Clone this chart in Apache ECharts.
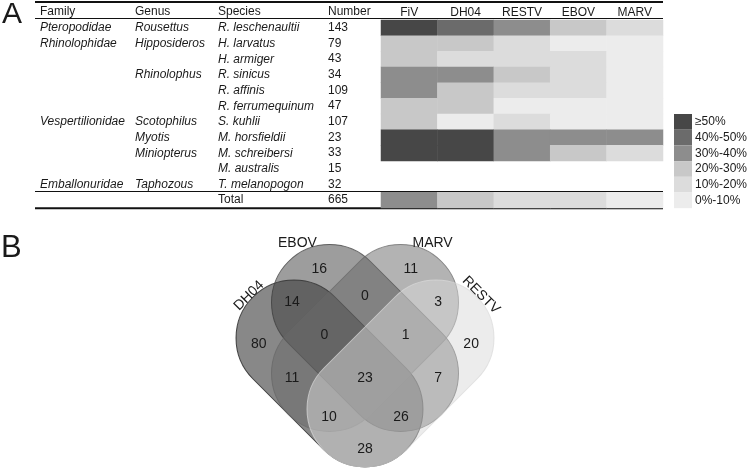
<!DOCTYPE html>
<html><head><meta charset="utf-8">
<script src="https://cdn.jsdelivr.net/npm/echarts@6/dist/echarts.min.js"></script>
<style>html,body{margin:0;padding:0;background:#fff}#c{width:750px;height:473px}</style>
</head><body><div id="c"></div>
<script>
// ---------------- data ----------------
const families = ['Pteropodidae','Rhinolophidae','','','','','Vespertilionidae','','','','Emballonuridae',''];
const genera = ['Rousettus','Hipposideros','','Rhinolophus','','','Scotophilus','Myotis','Miniopterus','','Taphozous',''];
const species = ['R. leschenaultii','H. larvatus','H. armiger','R. sinicus','R. affinis','R. ferrumequinum','S. kuhlii','M. horsfieldii','M. schreibersi','M. australis','T. melanopogon','Total'];
const sampleNumbers = [143,79,43,34,109,47,107,23,33,15,32,665];
const viruses = ['FiV','DH04','RESTV','EBOV','MARV'];
const levelLabels = ['0%-10%','10%-20%','20%-30%','30%-40%','40%-50%','≥50%'];
// positivity class (index into levelLabels) per row, columns follow `viruses`
const positivityLevels = [
  [5,4,3,2,1],
  [2,2,1,0,0],
  [2,1,1,1,0],
  [3,3,2,1,0],
  [3,2,1,1,0],
  [2,2,0,0,0],
  [2,0,1,0,0],
  [5,5,3,3,3],
  [5,5,3,2,1],
  null,
  null,
  [3,2,1,1,0]
];
const vennSets = ['DH04','EBOV','MARV','RESTV'];
const vennRegions = ['DH04','EBOV','MARV','RESTV','DH04&EBOV','EBOV&MARV','MARV&RESTV','DH04&EBOV&MARV','EBOV&MARV&RESTV','DH04&MARV','EBOV&RESTV','DH04&EBOV&MARV&RESTV','DH04&MARV&RESTV','DH04&EBOV&RESTV','DH04&RESTV'];
const vennCounts = [80,16,11,20,14,0,3,0,1,11,7,23,10,26,28];

// ---------------- layout / style ----------------
const FONT = '"Liberation Sans", Arial, Helvetica, sans-serif';
const TXT = '#1a1a1a';
const levelColors = ['#ececec','#dcdcdc','#c8c8c8','#8d8d8d','#6b6b6b','#474747'];
const TBL = {left:381, top:20, width:282, height:188, x0:35, x1:663};
const colX = [40, 135, 218, 328];
const colTexts = [families, genera, species, sampleNumbers];
const headers = ['Family','Genus','Species','Number'];
// Venn geometry, in units of the shape radius
const VENN = {cx:365, cy:338, unit:58, xmin:-2.5, xmax:2.5, ymin:-2, ymax:2.3};
const halfSpan = 0.612;
const shapeGeom = {DH04:{x:-0.612,y:0.612,dir:1}, EBOV:{x:0,y:0,dir:1}, MARV:{x:0,y:0,dir:-1}, RESTV:{x:0.612,y:0.612,dir:-1}};
const shapeRGB = {DH04:'17,17,17', EBOV:'59,59,59', MARV:'103,103,103', RESTV:'217,217,217'};
const regionPos = [[-1.83,0.11],[-0.79,-1.19],[0.79,-1.19],[1.83,0.11],[-1.26,-0.61],[0,-0.73],[1.26,-0.61],[-0.70,-0.05],[0.70,-0.05],[-1.26,0.70],[1.26,0.70],[0,0.69],[-0.62,1.37],[0.62,1.37],[0,1.91]];
const setLabelPos = {DH04:[-2.0,-0.73,45], EBOV:[-1.165,-1.64,0], MARV:[1.165,-1.64,0], RESTV:[2.0,-0.74,-45]};

const heatData = [];
positivityLevels.forEach((row, r) => { if (row) row.forEach((lv, c) => heatData.push([c, r, lv])); });

const textYAxes = colTexts.map((arr, k) => ({
  gridIndex: 0, type: 'category', position: 'left', offset: 0, inverse: true, data: species,
  axisLine: {show:false}, axisTick: {show:false}, splitLine: {show:false},
  axisLabel: {
    interval: 0, align: 'left', margin: TBL.left - colX[k],
    fontFamily: FONT, fontSize: 12, color: TXT,
    formatter: (v, i) => {
      const t = String(arr[i]);
      if (t === '') return '';
      const italic = k < 2 || (k === 2 && i < species.length - 1);
      return italic ? '{it|' + t + '}' : '{n|' + t + '}';
    },
    rich: {it:{fontStyle:'italic', fontFamily:FONT, fontSize:12, color:TXT}, n:{fontFamily:FONT, fontSize:12, color:TXT}}
  }
}));

const vennGrid = {
  outerBoundsMode: 'none', containLabel: false,
  left: VENN.cx + VENN.xmin*VENN.unit, width: (VENN.xmax-VENN.xmin)*VENN.unit,
  top: VENN.cy + VENN.ymin*VENN.unit, height: (VENN.ymax-VENN.ymin)*VENN.unit
};

const graphics = [];
[[2,2],[18.5,1],[191.5,1],[208.3,2]].forEach(([y,w]) => graphics.push({type:'line', silent:true, shape:{x1:TBL.x0,y1:y,x2:TBL.x1,y2:y}, style:{stroke:'#111', lineWidth:w}}));
headers.forEach((h,k) => graphics.push({type:'text', left:colX[k], top:6, style:{text:h, font:'12px '+FONT, fill:TXT}}));
graphics.push({type:'text', left:2, top:0, style:{text:'A', font:'30px '+FONT, fill:TXT}});
graphics.push({type:'text', left:1, top:233, style:{text:'B', font:'31px '+FONT, fill:TXT}});

const chart = echarts.init(document.getElementById('c'), null, {renderer:'canvas'});
chart.setOption({
  animation: false,
  backgroundColor: '#fff',
  grid: [
    {outerBoundsMode:'none', containLabel:false, left:TBL.left, top:TBL.top, width:TBL.width, height:TBL.height},
    vennGrid
  ],
  xAxis: [
    {gridIndex:0, type:'category', position:'top', data:viruses,
     axisLine:{show:false}, axisTick:{show:false}, splitLine:{show:false},
     axisLabel:{interval:0, margin:7, verticalAlign:'middle', fontFamily:FONT, fontSize:12, color:TXT}},
    {gridIndex:1, type:'value', min:VENN.xmin, max:VENN.xmax, show:false}
  ],
  yAxis: textYAxes.concat([
    {gridIndex:1, type:'value', min:VENN.ymin, max:VENN.ymax, inverse:true, show:false}
  ]),
  visualMap: {
    type:'piecewise', seriesIndex:0, dimension:2, orient:'vertical',
    left:674, top:114, padding:0, itemWidth:18, itemHeight:15.7, itemGap:0,
    itemSymbol:'rect', align:'left', textGap:3, selectedMode:false,
    textStyle:{fontFamily:FONT, fontSize:12, color:TXT},
    pieces: levelLabels.map((l,i) => ({value:i, label:l, color:levelColors[i]}))
  },
  graphic: graphics,
  series: [
    {type:'heatmap', xAxisIndex:0, yAxisIndex:0, data:heatData, emphasis:{disabled:true}, itemStyle:{borderWidth:0}},
    {type:'custom', xAxisIndex:1, yAxisIndex:4, clip:false, silent:true,
     encode:{x:0, y:1},
     data: vennSets.map((s,i) => [shapeGeom[s].x, shapeGeom[s].y, i]),
     renderItem: (params, api) => {
       const name = vennSets[api.value(2)];
       const g = shapeGeom[name];
       const c = api.coord([g.x, g.y]);
       const u = api.size([1,1])[0];
       const r = u;
       const L = 2*halfSpan*Math.SQRT2*u + 2*r;
       const rgb = shapeRGB[name];
       return {type:'rect', x:c[0], y:c[1], rotation: g.dir === 1 ? -Math.PI/4 : Math.PI/4,
         shape:{x:-L/2, y:-r, width:L, height:2*r, r:r},
         style:{fill:'rgba('+rgb+',0.5)', stroke:'rgba('+rgb+',0.75)', lineWidth:1}};
     }},
    {type:'custom', xAxisIndex:1, yAxisIndex:4, clip:false, silent:true, z:5,
     encode:{x:0, y:1},
     data: vennCounts.map((v,i) => [regionPos[i][0], regionPos[i][1], v]),
     renderItem: (params, api) => {
       const c = api.coord([api.value(0), api.value(1)]);
       return {type:'text', x:c[0], y:c[1], style:{text:String(api.value(2)), font:'14px '+FONT, fill:TXT, align:'center', verticalAlign:'middle'}};
     }},
    {type:'custom', xAxisIndex:1, yAxisIndex:4, clip:false, silent:true, z:5,
     encode:{x:0, y:1},
     data: vennSets.map((s,i) => [setLabelPos[s][0], setLabelPos[s][1], i]),
     renderItem: (params, api) => {
       const name = vennSets[api.value(2)];
       const c = api.coord([api.value(0), api.value(1)]);
       return {type:'text', x:c[0], y:c[1], rotation: setLabelPos[name][2]*Math.PI/180,
         style:{text:name, font:'14px '+FONT, fill:TXT, align:'center', verticalAlign:'middle'}};
     }}
  ]
});
</script></body></html>
